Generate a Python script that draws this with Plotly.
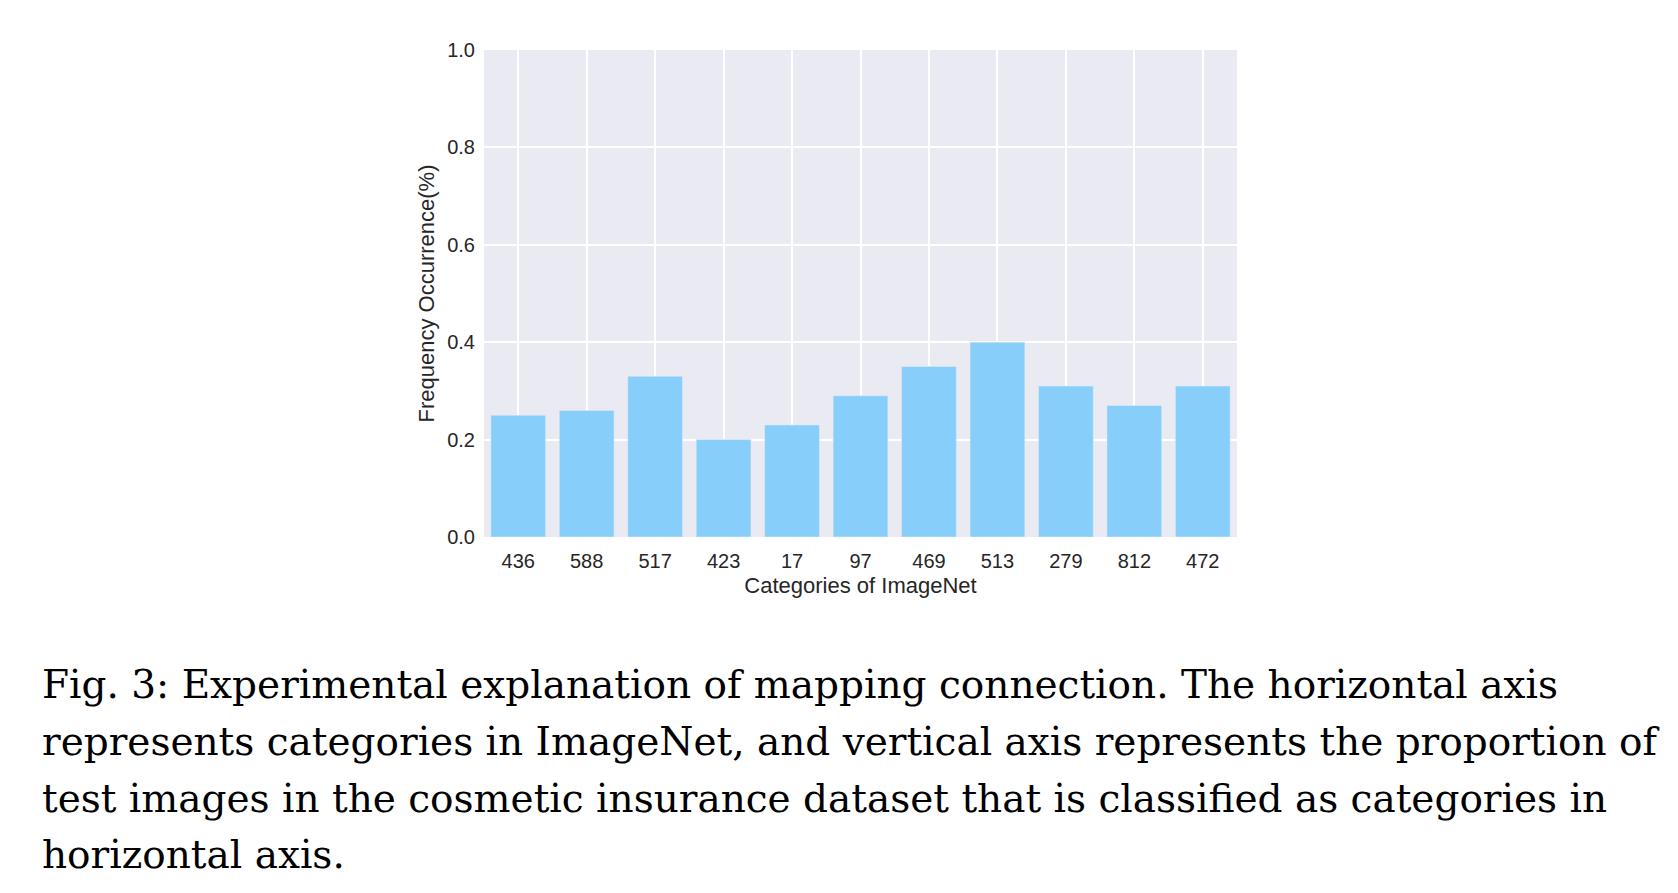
import plotly.graph_objects as go

categories = ["436", "588", "517", "423", "17", "97", "469", "513", "279", "812", "472"]
values = [0.25, 0.26, 0.33, 0.20, 0.23, 0.29, 0.35, 0.40, 0.31, 0.27, 0.31]
caption_lines = [
    "Fig. 3: Experimental explanation of mapping connection. The horizontal axis",
    "represents categories in ImageNet, and vertical axis represents the proportion of",
    "test images in the cosmetic insurance dataset that is classified as categories in",
    "horizontal axis.",
]

fig = go.Figure(go.Bar(x=categories, y=values, marker_color="#87CEFA", width=0.8))
W, H = 1678, 893
L, R, T, B = 476, 449, 42, 364
fig.update_layout(
    width=W, height=H, paper_bgcolor="white", plot_bgcolor="#EAEAF2",
    margin=dict(l=L, r=R, t=T, b=B), showlegend=False,
    font=dict(family="Liberation Sans, Arial", color="#262626", size=20),
)
fig.update_xaxes(type="category", showgrid=True, gridcolor="white", gridwidth=2,
                 ticks="", ticklabelstandoff=10,
                 title=dict(text="Categories of ImageNet", font=dict(size=22), standoff=6))
fig.update_yaxes(range=[0, 1.0], tickvals=[0, 0.2, 0.4, 0.6, 0.8, 1.0], tickformat=".1f",
                 showgrid=True, gridcolor="white", gridwidth=2, zeroline=False, ticks="",
                 ticklabelstandoff=8,
                 title=dict(text="Frequency Occurrence(%)", font=dict(size=22), standoff=6))
ys = [676, 733, 790, 846]
for line, yy in zip(caption_lines, ys):
    fig.add_annotation(text=line, xref="paper", yref="paper", x=(32 - L) / (W - L - R),
                       y=(H - B - yy) / (H - T - B), xanchor="left", yanchor="middle",
                       showarrow=False, font=dict(family="DejaVu Serif", size=39, color="black"))
fig.write_html("out.html")
